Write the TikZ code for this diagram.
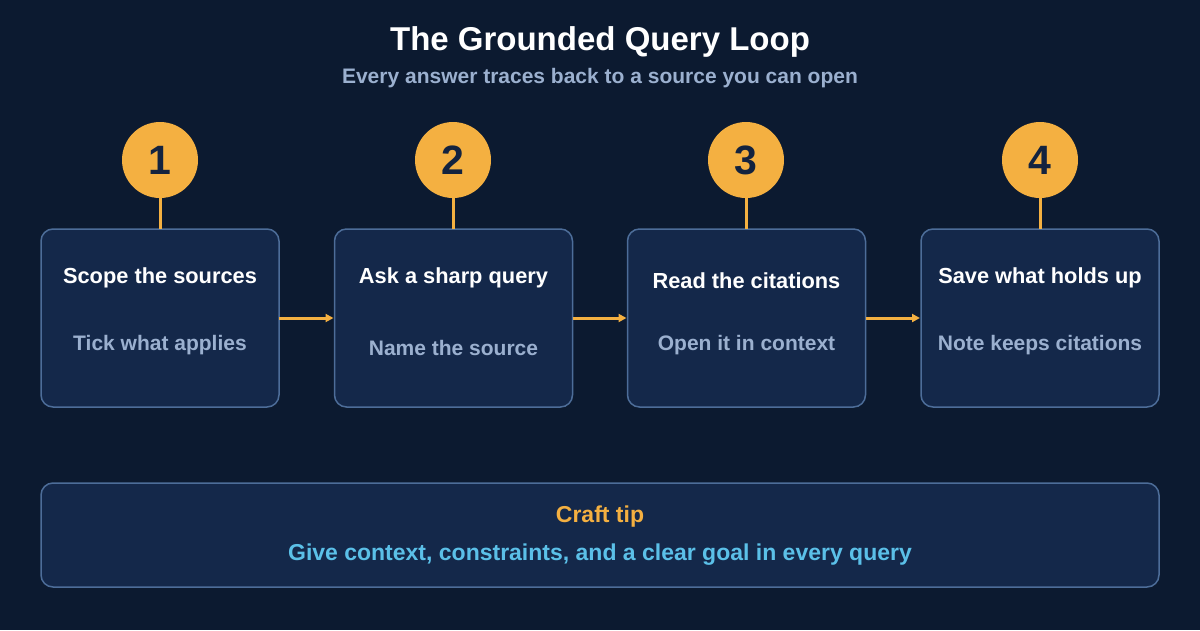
\documentclass[tikz,border=0pt]{standalone}
\usepackage{fontspec}
\setmainfont{Liberation Sans}
\usetikzlibrary{arrows.meta}
\definecolor{bg}{HTML}{0C1A30}
\definecolor{boxfill}{HTML}{14284A}
\definecolor{boxline}{HTML}{4D6D99}
\definecolor{accent}{HTML}{F4B041}
\definecolor{numcol}{HTML}{13233F}
\definecolor{muted}{HTML}{9BB0CF}
\definecolor{tipblue}{HTML}{5BC0E8}
\begin{document}
\begin{tikzpicture}[x=1pt,y=-1pt,
  stepbox/.style={draw=boxline, fill=boxfill, line width=1.5pt, rounded corners=12pt, inner sep=0pt, outer sep=0pt, minimum width=238pt, minimum height=178pt},
  numcirc/.style={circle, fill=accent, inner sep=0pt, outer sep=0pt, minimum size=76pt, text=numcol, font=\fontsize{41}{41}\selectfont\bfseries},
  steptitle/.style={text=white, font=\fontsize{21.8}{24}\selectfont\bfseries, inner sep=0pt},
  stepsub/.style={text=muted, font=\fontsize{21}{24}\selectfont\bfseries, inner sep=0pt},
  stem/.style={draw=accent, line width=3pt},
  flow/.style={draw=accent, line width=3pt, -{Triangle[length=8pt,width=8pt]}, shorten >=1pt}
]
\fill[bg] (0,0) rectangle (1200,630);
\useasboundingbox (0,0) rectangle (1200,630);

\node[text=white, font=\fontsize{33}{38}\selectfont\bfseries, inner sep=0pt] (title) at (600,42) {The Grounded Query Loop};
\node[text=muted, font=\fontsize{21}{24}\selectfont\bfseries, inner sep=0pt] (subtitle) at (600,78) {Every answer traces back to a source you can open};

\node[stepbox] (b1) at (160,318) {};
\node[stepbox] (b2) at (453.5,318) {};
\node[stepbox] (b3) at (746.5,318) {};
\node[stepbox] (b4) at (1040,318) {};

\node[numcirc] (c1) at (160,160) {1};
\node[numcirc] (c2) at (453,160) {2};
\node[numcirc] (c3) at (746,160) {3};
\node[numcirc] (c4) at (1040,160) {4};

\draw[stem] (c1.south) -- (c1.south |- b1.north);
\draw[stem] (c2.south) -- (c2.south |- b2.north);
\draw[stem] (c3.south) -- (c3.south |- b3.north);
\draw[stem] (c4.south) -- (c4.south |- b4.north);

\draw[flow] (b1.east) -- (b2.west);
\draw[flow] (b2.east) -- (b3.west);
\draw[flow] (b3.east) -- (b4.west);

\node[steptitle] (t1) at (160,278) {Scope the sources};
\node[stepsub] (s1) at (160,345) {Tick what applies};
\node[steptitle] (t2) at (453.5,278) {Ask a sharp query};
\node[stepsub] (s2) at (453.5,348) {Name the source};
\node[steptitle] (t3) at (746.5,281) {Read the citations};
\node[stepsub] (s3) at (746.5,345) {Open it in context};
\node[steptitle] (t4) at (1040,278) {Save what holds up};
\node[stepsub] (s4) at (1040,345) {Note keeps citations};

\node[draw=boxline, fill=boxfill, line width=1.5pt, rounded corners=12pt, minimum width=1118pt, minimum height=104pt, inner sep=0pt] (tip) at (600,535) {};
\node[text=accent, font=\fontsize{23}{26}\selectfont\bfseries, inner sep=0pt] (tiptitle) at (600,517) {Craft tip};
\node[text=tipblue, font=\fontsize{23}{26}\selectfont\bfseries, inner sep=0pt] (tiptext) at (600,555) {Give context, constraints, and a clear goal in every query};
\end{tikzpicture}
\end{document}
